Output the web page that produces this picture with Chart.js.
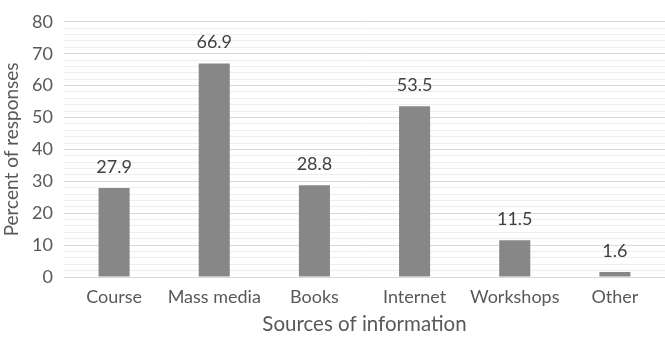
<!DOCTYPE html>
<html>
<head>
<meta charset="utf-8">
<script src="https://cdn.jsdelivr.net/npm/chart.js@4/dist/chart.umd.min.js"></script>
<style>
  html, body { margin: 0; padding: 0; background: #fff; }
  #wrap { width: 665px; height: 337px; }
</style>
</head>
<body>
<div id="wrap"><canvas id="chart-area"></canvas></div>
<script>
"use strict";

const SOURCES = ["Course", "Mass media", "Books", "Internet", "Workshops", "Other"];
const PERCENTS = [27.9, 66.9, 28.8, 53.5, 11.5, 1.6];
const Y_MAX = 80;

const FONT = "Lato, 'Open Sans', sans-serif";

// writes each value just above its bar
const valueLabels = {
  id: "valueLabels",
  afterDatasetsDraw(chart) {
    const ctx = chart.ctx;
    const meta = chart.getDatasetMeta(0);
    ctx.save();
    ctx.font = "18px " + FONT;
    ctx.fillStyle = "#404040";
    ctx.textAlign = "center";
    ctx.textBaseline = "bottom";
    meta.data.forEach(function(bar, i) {
      ctx.fillText(PERCENTS[i].toFixed(1), bar.x, bar.y - 12);
    });
    ctx.restore();
  }
};

const config = {
  type: "bar",
  data: {
    labels: SOURCES,
    datasets: [
      {
        data: PERCENTS,
        backgroundColor: "#878787",
        categoryPercentage: 1,
        barPercentage: 0.31
      }
    ]
  },
  options: {
    responsive: true,
    maintainAspectRatio: false,
    animation: false,
    layout: { padding: { top: 7, right: 0, left: 0, bottom: 0 } },
    plugins: {
      legend: { display: false },
      tooltip: { enabled: false }
    },
    scales: {
      x: {
        grid: { display: false },
        border: { display: false },
        ticks: {
          color: "#595959",
          font: { family: FONT, size: 18 },
          padding: 1
        },
        title: {
          display: true,
          text: "Sources of information",
          color: "#595959",
          font: { family: FONT, size: 20.5 },
          padding: { top: 7, bottom: 0 }
        },
        afterFit(scale) { scale.height = 60; }
      },
      y: {
        min: 0,
        max: Y_MAX,
        border: { display: false },
        grid: {
          drawTicks: false,
          color: function(c) {
            return c.tick.value % 10 === 0 ? "#d9d9d9" : "#ededed";
          }
        },
        ticks: {
          stepSize: 2,
          autoSkip: false,
          color: "#595959",
          font: { family: FONT, size: 18 },
          padding: 11,
          callback: function(v) { return v % 10 === 0 ? v : ""; }
        },
        title: {
          display: true,
          text: "Percent of responses",
          color: "#595959",
          font: { family: FONT, size: 19 },
          padding: { top: 0, bottom: 4 }
        },
        afterFit(scale) { scale.width = 64; }
      }
    }
  },
  plugins: [valueLabels]
};

window.onload = function() {
  const ctx = document.getElementById("chart-area").getContext("2d");
  window.myBar = new Chart(ctx, config);
};
</script>
</body>
</html>
